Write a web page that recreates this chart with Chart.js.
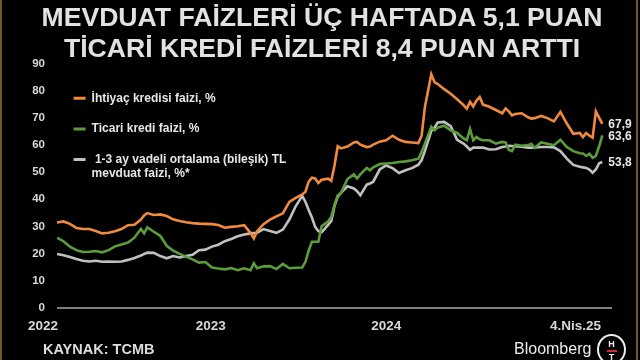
<!DOCTYPE html>
<html>
<head>
<meta charset="utf-8">
<script src="https://cdn.jsdelivr.net/npm/chart.js@4"></script>
<style>
  html, body { margin: 0; padding: 0; background: #000; }
  #wrap { position: relative; width: 640px; height: 360px; background: #000; overflow: hidden;
          font-family: "Liberation Sans", Arial, sans-serif; }
  #c { position: absolute; left: 0; top: 0; }
  .edge { position: absolute; top: 0; width: 2px; height: 360px; background: #6b5836; }
  .title { position: absolute; left: 2px; width: 640px; top: 2px; text-align: center;
           color: #e2e2e2; font-weight: bold; font-size: 26.6px; line-height: 31px; }
  .src { position: absolute; left: 43px; top: 341px; color: #dcdcdc; font-weight: bold; font-size: 14.5px; }
  .bb { position: absolute; left: 514px; top: 340px; color: #ececec; font-size: 16px; }
  .ht { position: absolute; left: 597px; top: 334px; width: 25px; height: 27px; border: 2.5px solid #ececec;
        border-radius: 50%; text-align: center; color: #ececec; font-weight: bold; font-size: 9px; line-height: 9px; }
  .ht i { display: block; width: 10px; height: 2px; background: #d8262e; margin: 1px auto; }
</style>
</head>
<body>
<div id="wrap">
  <canvas id="c" width="640" height="360"></canvas>
  <div class="edge" style="left:0"></div>
  <div class="edge" style="left:636px"></div>
  <div class="title">MEVDUAT FAİZLERİ ÜÇ HAFTADA 5,1 PUAN<br>TİCARİ KREDİ FAİZLERİ 8,4 PUAN ARTTI</div>
  <div class="src">KAYNAK: TCMB</div>
  <div class="bb">Bloomberg</div>
  <div class="ht"><div style="margin-top:4px">H</div><i></i><div>T</div></div>
</div>
<script>
// haftalar: 7 Ocak 2022'den itibaren hafta sayısı (169 = 4 Nisan 2025)
var weeks = [0,2,4,6,8,10,12,14,16,18,20,22,24,26,27,28,30,32,34,36,38,40,42,44,46,48,50,52,54,56,58,60,61,62,64,66,68,70,72,74,76,77,78,79,80,81,82,84,85,86,87,88,90,92,93,94,96,97,98,100,102,104,106,108,110,112,113,114,116,117,118,120,122,124,126,127,128,129,130,131,132,134,136,138,139,140,141,142,144,146,147,148,150,152,154,156,158,160,162,163,164,165,166,167,168,169];

var ihtiyac = [31.4,31.8,30.9,29.4,29.0,29.0,28.3,27.4,27.6,28.2,29.0,30.4,30.6,32.5,34.0,34.9,34.2,34.4,33.8,32.6,32.0,31.5,31.2,31.0,30.9,30.8,30.5,29.5,29.8,30.0,30.4,27.5,25.5,28.2,30.8,32.5,33.7,34.8,39.0,40.5,41.8,42.8,46.5,48.0,47.7,46.0,47.2,47.6,46.8,52.5,59.6,58.8,59.5,61.0,61.2,60.2,59.3,59.5,60.2,61.3,61.8,63.5,62.0,61.2,61.0,60.8,63.5,74.0,86.2,83.3,82.6,80.7,79.0,77.0,74.8,73.5,76.0,74.3,76.5,77.8,75.0,74.2,73.0,71.8,73.6,72.5,71.0,71.5,71.8,70.3,69.8,70.0,70.8,70.0,68.8,72.3,68.0,64.2,64.5,63.0,64.5,63.5,62.8,72.5,70.2,67.9];

var ticari = [25.8,24.5,22.5,21.2,20.5,20.6,20.9,20.4,21.2,22.6,23.3,24.0,25.8,29.0,27.4,29.6,28.0,26.5,22.8,21.0,19.8,18.8,17.8,16.6,16.8,14.8,14.4,14.1,14.6,13.8,14.5,13.8,16.3,14.5,15.2,15.3,14.2,16.1,14.5,14.7,14.8,16.9,21.0,24.3,24.3,24.3,30.0,31.8,33.5,38.0,41.5,42.3,47.5,49.2,47.7,49.2,51.6,50.7,51.8,53.0,53.2,53.4,53.8,54.0,54.4,55.0,57.5,60.5,66.8,65.5,66.5,67.2,65.5,64.5,62.5,61.8,66.0,61.8,63.0,62.2,61.8,61.8,60.6,61.2,61.0,58.3,57.8,60.2,59.8,60.0,60.5,59.0,61.0,60.5,60.0,62.0,59.3,57.8,57.0,56.9,56.0,56.8,55.3,56.0,59.5,63.6];

var mevduat = [19.8,19.3,18.7,17.9,17.3,17.0,17.3,16.9,17.0,16.9,17.0,17.6,18.3,19.2,19.8,20.3,20.2,19.0,18.2,19.0,18.5,19.0,19.5,21.2,21.4,22.5,23.2,24.5,25.3,26.3,27.0,27.4,27.5,27.6,29.0,28.3,27.6,28.8,32.5,37.5,41.3,39.0,36.0,33.3,29.8,28.2,27.8,30.5,32.0,37.5,41.0,42.4,44.8,44.0,43.0,41.5,45.4,45.8,46.5,51.0,52.5,51.5,49.7,50.7,51.5,52.8,54.5,57.8,65.3,66.5,68.4,68.6,67.0,62.0,60.6,59.5,58.3,59.1,59.1,59.1,59.1,58.4,58.5,59.3,59.5,59.8,59.7,59.6,59.4,59.1,59.1,59.2,59.3,59.3,59.2,57.8,55.0,52.7,52.0,51.8,51.6,51.0,49.8,51.0,53.3,53.8];

var seriesNames = [
  ['İhtiyaç kredisi faizi, %'],
  ['Ticari kredi faizi, %'],
  [' 1-3 ay vadeli ortalama (bileşik) TL', 'mevduat faizi, %*']
];
var seriesColors = ['#f08a3e', '#5c9c3a', '#c0c0c0'];

var xTickWeeks = [0, 52, 106.4, 165];
var xTickLabels = ['2022', '2023', '2024', '4.Nis.25'];

function toPoints(vals) {
  return vals.map(function (v, i) { return { x: weeks[i], y: v }; });
}

// serilerin son değerlerini sağ uca yaz
var endLabels = {
  id: 'endLabels',
  afterDatasetsDraw: function (chart) {
    var ctx = chart.ctx;
    ctx.save();
    ctx.font = 'bold 12px "Liberation Sans", Arial, sans-serif';
    ctx.fillStyle = '#e8e8e8';
    ctx.textBaseline = 'middle';
    ctx.textAlign = 'left';
    chart.data.datasets.forEach(function (ds, i) {
      var pts = chart.getDatasetMeta(i).data;
      var last = pts[pts.length - 1];
      var v = ds.data[ds.data.length - 1].y;
      ctx.fillText(v.toFixed(1).replace('.', ','), last.x + 6, last.y + 1);
    });
    ctx.restore();
  }
};

Chart.defaults.font.family = '"Liberation Sans", Arial, sans-serif';

var ctx = document.getElementById('c').getContext('2d');
var myChart = new Chart(ctx, {
  type: 'line',
  data: {
    datasets: [ihtiyac, ticari, mevduat].map(function (vals, i) {
      return {
        label: seriesNames[i].join(' '),
        data: toPoints(vals),
        borderColor: seriesColors[i],
        backgroundColor: seriesColors[i],
        borderWidth: 2.6,
        pointRadius: 0,
        tension: 0,
        fill: false
      };
    })
  },
  options: {
    responsive: false,
    animation: false,
    layout: { padding: { top: 64, right: 28, bottom: 16.5, left: 0 } },
    plugins: {
      tooltip: { enabled: false },
      legend: {
        position: 'chartArea',
        align: 'start',
        title: { display: true, text: ' ', font: { size: 2, lineHeight: 1 }, padding: { top: 0, bottom: 73.7 } },
        labels: {
          color: '#e6e6e6',
          font: { size: 12, weight: 'bold', lineHeight: '14px' },
          boxWidth: 12,
          boxHeight: 3,
          padding: 16.6,
          generateLabels: function (chart) {
            return chart.data.datasets.map(function (ds, i) {
              return {
                text: seriesNames[i],
                fillStyle: seriesColors[i],
                strokeStyle: seriesColors[i],
                lineWidth: 0,
                hidden: false,
                datasetIndex: i,
                fontColor: '#e6e6e6'
              };
            });
          }
        }
      }
    },
    scales: {
      x: {
        type: 'linear',
        min: 0,
        max: 172,
        grid: { display: false },
        border: { display: false },
        afterBuildTicks: function (scale) {
          scale.ticks = xTickWeeks.map(function (v) { return { value: v }; });
        },
        afterFit: function (scale) { scale.height = 36; },
        ticks: {
          color: '#d9d9d9',
          font: { size: 13.5, weight: 'bold' },
          autoSkip: false,
          maxRotation: 0,
          labelOffset: -14,
          padding: 3,
          callback: function (v, i) { return xTickLabels[i]; }
        }
      },
      y: {
        min: 0,
        max: 90,
        afterFit: function (scale) { scale.width = 57; },
        grid: {
          drawTicks: false,
          lineWidth: 2,
          color: function (c) { return c.tick && c.tick.value === 0 ? '#7f7f7f' : 'rgba(0,0,0,0)'; }
        },
        border: { display: false },
        ticks: {
          stepSize: 10,
          color: '#d9d9d9',
          font: { size: 11.5, weight: 'bold' },
          padding: 12
        }
      }
    }
  },
  plugins: [endLabels]
});
</script>
</body>
</html>
